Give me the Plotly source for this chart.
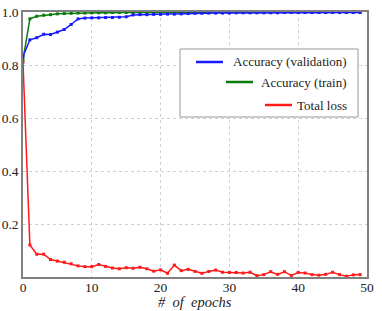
import plotly.graph_objects as go

epochs = list(range(50))

acc_val = [0.832, 0.895, 0.903, 0.916, 0.915, 0.924, 0.934, 0.953, 0.974, 0.977,
           0.978, 0.978, 0.979, 0.979, 0.980, 0.982, 0.989, 0.990, 0.990, 0.991,
           0.991, 0.992, 0.992, 0.993, 0.994, 0.995, 0.995, 0.996, 0.996, 0.996,
           0.996, 0.997, 0.997, 0.997, 0.997, 0.997, 0.997, 0.997, 0.998, 0.998,
           0.998, 0.998, 0.998, 0.998, 0.998, 0.998, 0.998, 0.998, 0.998, 0.998]

acc_train = [0.82, 0.974, 0.984, 0.988, 0.990, 0.993, 0.994, 0.995, 0.996, 0.996,
             0.997, 0.997, 0.997, 0.998, 0.998, 0.998, 0.998, 0.998, 0.998, 0.998,
             0.999, 0.999, 0.999, 0.999, 0.999, 0.999, 0.999, 0.999, 0.999, 0.999,
             0.999, 0.999, 0.999, 0.999, 0.999, 0.999, 0.999, 0.999, 0.999, 0.999,
             0.999, 0.999, 0.999, 0.999, 0.999, 0.999, 0.999, 0.999, 0.999, 0.999]

total_loss = [0.81, 0.121, 0.086, 0.086, 0.066, 0.060, 0.056, 0.050, 0.042, 0.039,
              0.039, 0.047, 0.040, 0.034, 0.031, 0.035, 0.033, 0.037, 0.031, 0.022,
              0.027, 0.014, 0.045, 0.024, 0.029, 0.021, 0.014, 0.021, 0.026, 0.018,
              0.017, 0.017, 0.015, 0.018, 0.005, 0.009, 0.020, 0.010, 0.020, 0.006,
              0.017, 0.015, 0.009, 0.007, 0.010, 0.018, 0.009, 0.003, 0.008, 0.009]

series_names = ["Accuracy (validation)", "Accuracy (train)", "Total loss"]
series_colors = ["#1a1aff", "#0a7a0a", "#ff1a1a"]
x_ticks = [0, 10, 20, 30, 40, 50]
y_ticks = [0.2, 0.4, 0.6, 0.8, 1.0]
x_title = "<i>#  of  epochs</i>"

series_vals = [acc_val, acc_train, total_loss]
draw_order = [1, 0, 2]  # train below validation, loss on top

fig = go.Figure()
for i in draw_order:
    fig.add_trace(go.Scatter(
        x=epochs, y=series_vals[i], name=series_names[i], mode="lines+markers",
        line=dict(color=series_colors[i], width=1.5),
        marker=dict(symbol="square", size=3, color=series_colors[i]),
        showlegend=False, cliponaxis=False,
    ))

font_family = "Times New Roman, Liberation Serif, DejaVu Serif, serif"

fig.update_layout(
    width=382, height=311,
    margin=dict(l=23, r=15, t=12, b=34),
    paper_bgcolor="white", plot_bgcolor="white",
    font=dict(family=font_family, size=14, color="#222"),
    xaxis=dict(
        range=[0, 50], tickvals=x_ticks, ticktext=[str(v) for v in x_ticks],
        showgrid=True, gridcolor="#d0d0d0", griddash="dot", gridwidth=1,
        showline=True, linecolor="#808080", linewidth=1.5, mirror=True,
        zeroline=False, ticks="", automargin=False,
        tickfont=dict(family=font_family, size=13.5),
    ),
    yaxis=dict(
        range=[0, 1.0], tickvals=y_ticks, ticktext=["0.2", "0.4", "0.6", "0.8", "1.0"],
        showgrid=True, gridcolor="#d0d0d0", griddash="dot", gridwidth=1,
        showline=True, linecolor="#808080", linewidth=1.5, mirror=True,
        zeroline=False, ticks="", automargin=False,
        tickfont=dict(family=font_family, size=13.5),
    ),
)

try:
    fig.update_xaxes(ticklabelstandoff=-3)
except ValueError:
    pass

def px_x(px):
    return (px - 23) / 344.0

def px_y(py):
    return (277 - py) / 265.0

# x-axis title placed as annotation for exact positioning
fig.add_annotation(xref="paper", yref="paper", x=px_x(195), y=px_y(302),
                   text=x_title, showarrow=False, xanchor="center", yanchor="middle",
                   font=dict(size=14.5, family=font_family, color="#222"))

# custom legend with right-aligned entries
fig.add_shape(type="rect", xref="paper", yref="paper",
              x0=px_x(180), x1=px_x(358), y0=px_y(117), y1=px_y(49),
              line=dict(color="#999999", width=1), fillcolor="white", layer="above")

legend_rows = [(62, 196, 223), (82, 226, 253), (105, 265, 292)]
for (py, lx0, lx1), name, col in zip(legend_rows, series_names, series_colors):
    fig.add_shape(type="line", xref="paper", yref="paper",
                  x0=px_x(lx0), x1=px_x(lx1), y0=px_y(py), y1=px_y(py),
                  line=dict(color=col, width=2.5), layer="above")
    fig.add_annotation(xref="paper", yref="paper", x=px_x(349), y=px_y(py),
                       text=name, showarrow=False, xanchor="right", yanchor="middle",
                       font=dict(size=13, family=font_family, color="#222"))

fig.write_html("out.html", config={"displayModeBar": False},
               post_script="document.body.style.margin='0';")
